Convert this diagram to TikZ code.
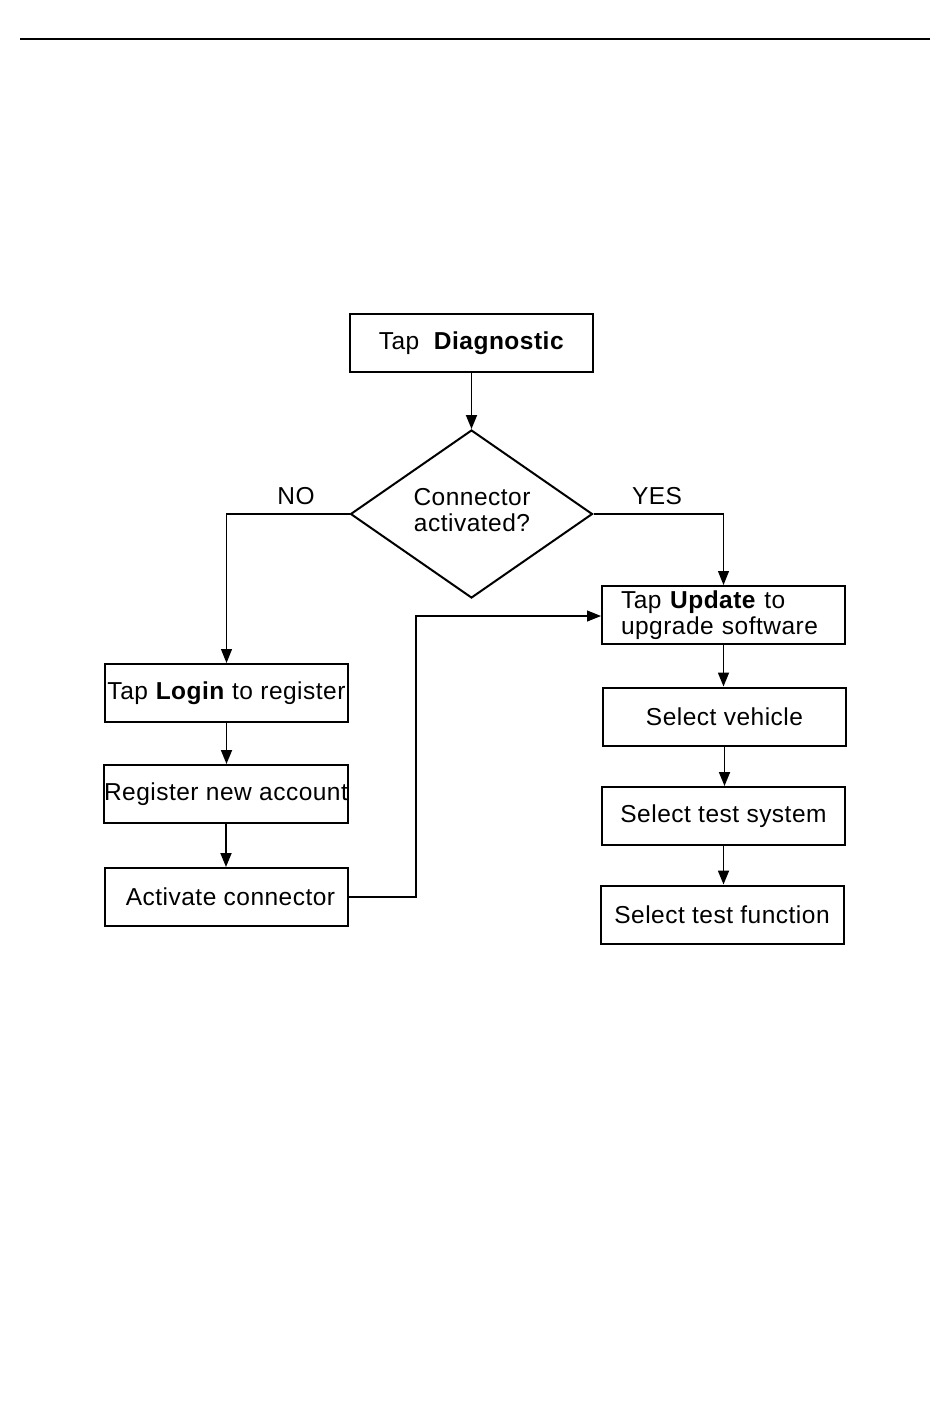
\documentclass[tikz,border=0pt]{standalone}
\usepackage{fontspec}
\setmainfont{Liberation Sans}[LetterSpace=2]
\usetikzlibrary{arrows.meta,shapes.geometric}
\begin{document}
\begin{tikzpicture}[x=1pt,y=-1pt,
  box/.style={draw,line width=2pt,minimum width=243pt,minimum height=58pt,inner sep=0pt,font=\fontsize{24.5}{26}\selectfont},
  arr/.style={line width=1.8pt,-{Triangle[length=14pt,width=11pt]}},
  thinarr/.style={line width=1.1pt,-{Triangle[length=14pt,width=11pt]}},
  lbl/.style={font=\fontsize{24.5}{26}\selectfont,inner sep=0pt}]
\useasboundingbox (0,0) rectangle (950,1409);
\fill[white] (0,0) rectangle (950,1409);
\coordinate (r1) at (20,39);
\coordinate (r2) at (930,39);
\draw[line width=2pt] (r1) -- (r2);
% nodes
\node[box] (diag) at (471.5,343) {Tap\ \ \textbf{Diagnostic}};
\node[draw,diamond,line width=2pt,minimum width=242pt,minimum height=168pt,inner sep=0pt] (dec) at (471.5,514) {};
\node[lbl,align=center] (dect) at (472,510) {Connector\\activated?};
\node[lbl] (no) at (296,496) {NO};
\node[lbl] (yes) at (657,496) {YES};
\node[box,text width=205pt,align=left] (upd) at (723.5,615) {Tap \textbf{Update} to\\upgrade software};
\node[box] (veh) at (724.5,716.5) {Select vehicle};
\node[box] (sys) at (723.5,816) {Select test system};
\node[box] (fun) at (722,914.5) {Select test function};
\node[box] (login) at (226.5,693) {Tap \textbf{Login} to register};
\node[box] (reg) at (226,794) {Register new account};
\node[box] (act) at (226,897) {\hspace{9pt}Activate connector};
% connectors
\draw[arr] (diag.south) -- (diag.south |- dec.north);
\draw[thinarr] (dec.west) -| (login.north);
\draw[thinarr] (dec.east) -| (upd.north);
\draw[arr] (login.south) -- (login.south |- reg.north);
\draw[arr] (reg.south) -- (reg.south |- act.north);
\draw[arr] (upd.south) -- (upd.south |- veh.north);
\draw[arr] (veh.south) -- (veh.south |- sys.north);
\draw[arr] (sys.south) -- (sys.south |- fun.north);
\coordinate (k) at (416,616);
\draw[thinarr] (act.east) -- (k |- act.east) -- (k) -- (upd.west |- k);
\end{tikzpicture}
\end{document}
